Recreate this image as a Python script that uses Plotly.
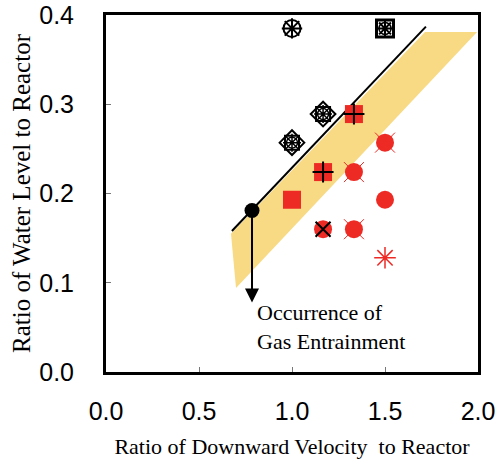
import plotly.graph_objects as go

# ---- data ----
# black (no entrainment) points
blk_circ_x = [1.0]
blk_circ_y = [0.385]
blk_sq_x = [1.5]
blk_sq_y = [0.385]
blk_oct_x = [1.0, 1.167]
blk_oct_y = [0.257, 0.289]
# red (entrainment) points
red_sqplus_x = [1.333, 1.167]
red_sqplus_y = [0.289, 0.224]
red_circx_x = [1.333, 1.5, 1.333]
red_circx_y = [0.224, 0.257, 0.160]
red_sq_x = [1.0]
red_sq_y = [0.193]
red_circ_x = [1.5]
red_circ_y = [0.193]
red_circblk_x = [1.167]
red_circblk_y = [0.160]
red_ast_x = [1.5]
red_ast_y = [0.128]
# reference point
ref_x = [0.785]
ref_y = [0.181]
arrow_end_y = 0.078
# boundary line and band
line_x = [0.677, 1.72]
line_y = [0.158, 0.387]
band_x = [0.672, 1.715, 1.995, 0.699, 0.672]
band_y = [0.155, 0.381, 0.381, 0.094, 0.155]

x_ticks = [0.0, 0.5, 1.0, 1.5, 2.0]
x_ticktext = ["0.0", "0.5", "1.0", "1.5", "2.0"]
y_ticks = [0.0, 0.1, 0.2, 0.3, 0.4]
y_ticktext = ["0.0", "0.1", "0.2", "0.3", "0.4"]

RED = "#EE2A24"
BAND = "#F8DA84"

fig = go.Figure()

fig.add_trace(go.Scatter(x=band_x, y=band_y, mode="lines", fill="toself",
                         fillcolor=BAND, line=dict(width=0, color=BAND),
                         hoverinfo="skip"))
fig.add_trace(go.Scatter(x=line_x, y=line_y, mode="lines",
                         line=dict(color="black", width=2)))


def mk(x, y, symbol, size, color, lw=1.5, lc=None):
    fig.add_trace(go.Scatter(
        x=x, y=y, mode="markers",
        marker=dict(symbol=symbol, size=size, color=color,
                    line=dict(width=lw, color=lc if lc else color))))


# black markers
mk(blk_circ_x, blk_circ_y, "circle-open", 17, "black", 2)
mk(blk_circ_x, blk_circ_y, "asterisk-open", 17, "black", 2)
mk(blk_sq_x, blk_sq_y, "square-open", 17, "black", 3)
mk(blk_sq_x, blk_sq_y, "asterisk-open", 14, "black", 2)
mk(blk_sq_x, blk_sq_y, "circle-open", 12, "black", 1.5)
mk(blk_oct_x, blk_oct_y, "diamond-open", 19, "black", 2)
mk(blk_oct_x, blk_oct_y, "square-open", 14, "black", 2)
mk(blk_oct_x, blk_oct_y, "asterisk-open", 15, "black", 1.5)
mk(blk_oct_x, blk_oct_y, "circle-open", 11, "black", 1.5)

# red markers
mk(red_sqplus_x, red_sqplus_y, "square", 18, RED, 0)
mk(red_sqplus_x, red_sqplus_y, "cross-thin-open", 15, "black", 2)
mk(red_circx_x, red_circx_y, "x-thin-open", 20, RED, 1)
mk(red_circx_x, red_circx_y, "circle", 18, RED, 0)
mk(red_sq_x, red_sq_y, "square", 18, RED, 0)
mk(red_circ_x, red_circ_y, "circle", 18, RED, 0)
mk(red_circblk_x, red_circblk_y, "circle", 18, RED, 0)
mk(red_circblk_x, red_circblk_y, "x-thin-open", 15, "black", 2)
mk(red_ast_x, red_ast_y, "asterisk-open", 18, RED, 1.5)

# reference point
mk(ref_x, ref_y, "circle", 15, "black", 0)

fig.add_annotation(x=ref_x[0], y=arrow_end_y, ax=ref_x[0], ay=ref_y[0],
                   xref="x", yref="y", axref="x", ayref="y", text="",
                   showarrow=True, arrowhead=2, arrowsize=1.4, arrowwidth=2,
                   arrowcolor="black")
fig.add_annotation(x=0.80, y=0.05, xref="x", yref="y",
                   text="Occurrence of<br>Gas Entrainment", showarrow=False,
                   xanchor="left", yanchor="middle", align="left",
                   font=dict(family="Liberation Serif", size=22, color="black"))

fig.update_layout(
    width=496, height=462,
    margin=dict(l=106, r=18, t=15, b=90),
    paper_bgcolor="white", plot_bgcolor="white",
    showlegend=False,
    xaxis=dict(range=[0, 2], tickvals=x_ticks, ticktext=x_ticktext,
               automargin=False,
               showline=True, mirror=True, linewidth=3, linecolor="black",
               ticks="inside", ticklen=5, tickwidth=1, tickcolor="#777",
               showgrid=False, zeroline=False, ticklabelstandoff=15,
               tickfont=dict(family="Liberation Sans", size=25, color="black"),
               title=dict(text="Ratio of Downward Velocity  to Reactor",
                          font=dict(family="Liberation Serif", size=22, color="black"),
                          standoff=15)),
    yaxis=dict(range=[0, 0.4], tickvals=y_ticks, ticktext=y_ticktext,
               automargin=False,
               showline=True, mirror=True, linewidth=3, linecolor="black",
               ticks="inside", ticklen=5, tickwidth=1, tickcolor="#777",
               showgrid=False, zeroline=False, ticklabelstandoff=24,
               tickfont=dict(family="Liberation Sans", size=25, color="black"),
               title=dict(text="Ratio of Water Level to Reactor",
                          font=dict(family="Liberation Serif", size=25, color="black"),
                          standoff=2)),
)

# remove the page's default 8px body margin so the figure fills the window
fig.write_html("out.html",
               config={"displayModeBar": False},
               post_script="document.body.style.margin='0px';"
                           "document.body.style.overflow='hidden';")
